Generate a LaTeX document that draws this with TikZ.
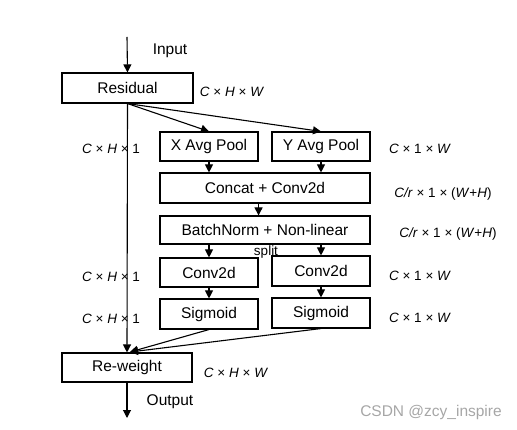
\documentclass[tikz,border=0pt]{standalone}
\usepackage{fontspec}
\setmainfont{Liberation Sans}
\usetikzlibrary{arrows.meta}
\begin{document}
\begin{tikzpicture}[x=1pt,y=-1pt,
  box/.style={draw, line width=1.1pt, inner sep=0pt, font=\fontsize{15.5}{18}\selectfont},
  arr/.style={-{Triangle[length=8pt,width=8pt]}, line width=1.1pt},
  ln/.style={line width=1.1pt},
  lbl/.style={font=\fontsize{13.5}{16}\selectfont, inner sep=0pt},
  txt/.style={font=\fontsize{15.5}{18}\selectfont, inner sep=0pt},
  wm/.style={font=\fontsize{15.5}{18}\selectfont, inner sep=0pt, text=black!35}]
\useasboundingbox (0,0) rectangle (517,430);
% boxes
\node[box, minimum width=131pt, minimum height=30pt] (res) at (127.5,88) {Residual};
\node[box, minimum width=98pt, minimum height=29pt] (xp) at (209,146.5) {X Avg Pool};
\node[box, minimum width=98pt, minimum height=29pt] (yp) at (321,146.5) {Y Avg Pool};
\node[box, minimum width=210pt, minimum height=30pt] (cc) at (265,188) {Concat + Conv2d};
\node[box, minimum width=210pt, minimum height=28pt] (bn) at (265,230) {BatchNorm + Non-linear};
\node[box, minimum width=98pt, minimum height=29pt] (cl) at (209,272.5) {Conv2d};
\node[box, minimum width=98pt, minimum height=30pt] (cr) at (321,271) {Conv2d};
\node[box, minimum width=98pt, minimum height=30pt] (sl) at (209,314) {Sigmoid};
\node[box, minimum width=98pt, minimum height=30pt] (sr) at (321,313) {Sigmoid};
\node[box, minimum width=130pt, minimum height=29pt] (rw) at (127,367.5) {Re-weight};
% free ends
\coordinate (in0) at (127,37);
\coordinate (out0) at (127,418);
\coordinate (rwin) at (130,352);
% texts
\node[txt] (tin) at (170,51) {Input};
\node[txt] (tout) at (170,402) {Output};
\node[lbl] (l1) at (232,92) {\textit{C} × \textit{H} × \textit{W}};
\node[lbl] (l2) at (111,149) {\textit{C} × \textit{H} × 1};
\node[lbl] (l3) at (420,149) {\textit{C} × 1 × \textit{W}};
\node[lbl] (l4) at (443,194) {\textit{C/r} × 1 × (\textit{W}+\textit{H})};
\node[lbl] (l5) at (448,234) {\textit{C/r} × 1 × (\textit{W}+\textit{H})};
\node[lbl] (l6) at (111,277) {\textit{C} × \textit{H} × 1};
\node[lbl] (l7) at (420,276) {\textit{C} × 1 × \textit{W}};
\node[lbl] (l8) at (111,319) {\textit{C} × \textit{H} × 1};
\node[lbl] (l9) at (420,318) {\textit{C} × 1 × \textit{W}};
\node[lbl] (spl) at (266,252) {split};
\node[lbl] (l10) at (236,373) {\textit{C} × \textit{H} × \textit{W}};
\node[wm] (wmk) at (431,412) {CSDN @zcy\_inspire};
% connectors
\draw[arr] (in0) -- (res.north);
\draw[arr] (res.south) -- (rw.north);
\draw[arr] (res.south) -- (xp.north);
\draw[arr] (res.south) -- (yp.north);
\draw[arr] (xp.south) -- (xp.south |- cc.north);
\draw[arr] (yp.south) -- (yp.south |- cc.north);
\draw[arr] (cc.south -| xp.east) -- (bn.north -| xp.east);
\draw[arr] (bn.south -| cl.south) -- (cl.north);
\draw[arr] (bn.south -| cr.south) -- (cr.north);
\draw[arr] (cl.south) -- (sl.north);
\draw[arr] (cr.south) -- (sr.north);
\draw[arr] (sl.south) -- (rwin);
\draw[arr] (sr.south) -- (rwin);
\draw[arr] (rw.south) -- (out0);
\end{tikzpicture}
\end{document}
